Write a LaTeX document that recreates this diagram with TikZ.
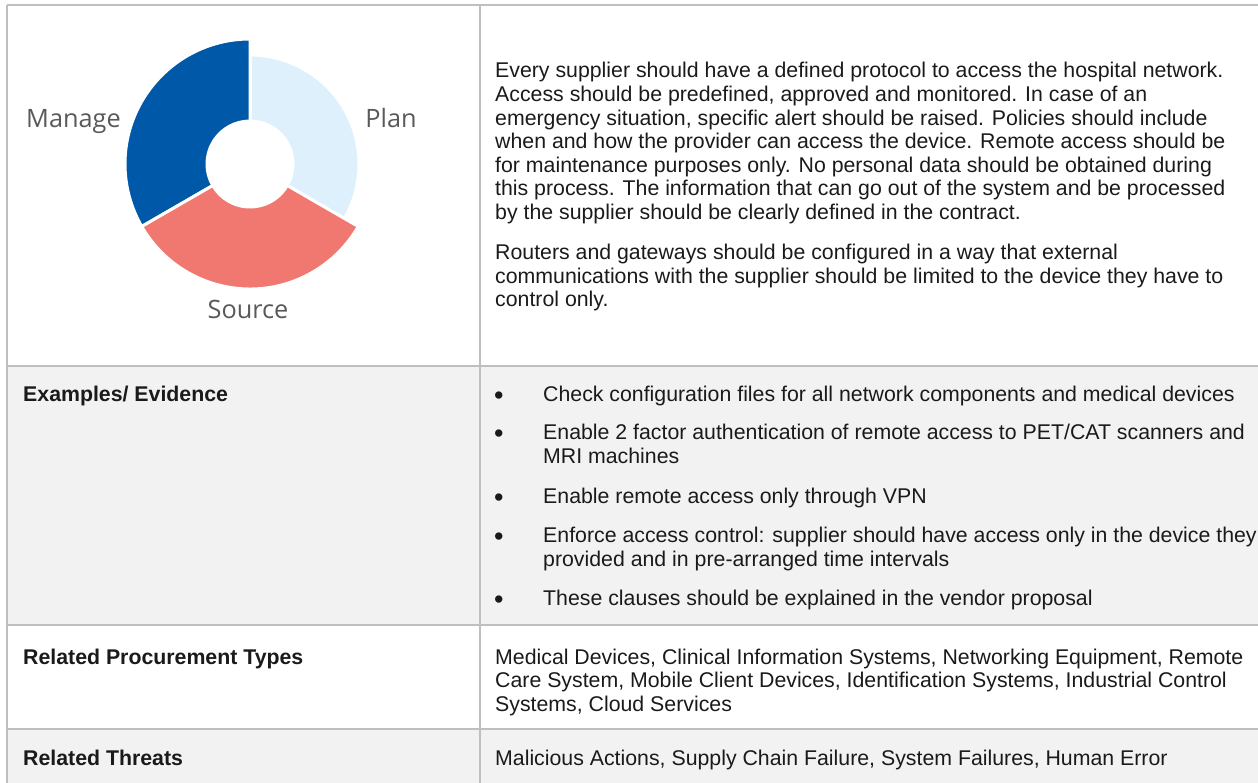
\documentclass[tikz,border=0pt]{standalone}
\usepackage{fontspec}
\setmainfont{Liberation Sans}
\newfontfamily\chartfont{Open Sans}
\usetikzlibrary{backgrounds}
\definecolor{gridgray}{HTML}{BFBFBF}
\definecolor{rowgray}{HTML}{F2F2F2}
\definecolor{managecol}{HTML}{0059A8}
\definecolor{plancol}{HTML}{DDF0FB}
\definecolor{sourcecol}{HTML}{F17870}
\definecolor{labelgray}{HTML}{595959}
\definecolor{inkcol}{HTML}{1A1A1A}

\begin{document}
\begin{tikzpicture}[x=1pt,y=1pt,
body/.style={font=\fontsize{21.3}{23.6}\selectfont, text=inkcol, anchor=base west, inner sep=0pt, align=left},
head/.style={body, font=\fontsize{21.3}{23.6}\selectfont\bfseries},
dotmark/.style={body, font=\fontsize{27}{27}\selectfont},
seg/.style={draw=white, line width=3pt},
chartlabel/.style={font=\chartfont\fontsize{25.3}{30}\selectfont, text=labelgray, inner sep=0pt, anchor=base},
rule/.style={draw=gridgray, line width=2pt}]
\useasboundingbox (0,0) rectangle (1258,-783);

% table frame
\coordinate (tl) at (7,-5);
\coordinate (tr) at (1258,-5);
\coordinate (mid) at (480,-5);
\begin{scope}[on background layer]
\fill[rowgray] (7,-366) rectangle (1258,-625);
\fill[rowgray] (7,-729) rectangle (1258,-783);
\end{scope}
\draw[rule] (tl) -- (tr);
\draw[rule] (tl) -- (7,-783);
\draw[rule] (mid) -- (480,-783);
\foreach \y in {366,625,729}
  \draw[rule] (7,-\y) -- (1258,-\y);

% donut
\coordinate (c) at (250,-164);
\fill[plancol, seg] (c) ++(-30:43) -- ++(-30:66) arc[start angle=-30, end angle=90, radius=109]
  -- ++(270:66) arc[start angle=90, end angle=-30, radius=43] -- cycle;
\fill[managecol, seg] (c) ++(90:43) -- ++(90:82) arc[start angle=90, end angle=210, radius=125]
  -- ++(30:82) arc[start angle=210, end angle=90, radius=43] -- cycle;
\fill[sourcecol, seg] (c) ++(210:43) -- ++(210:82) arc[start angle=210, end angle=330, radius=125]
  -- ++(150:82) arc[start angle=330, end angle=210, radius=43] -- cycle;
\node[chartlabel] (manage) at (73.5,-128) {Manage};
\node[chartlabel] (plan) at (391,-128) {Plan};
\node[chartlabel] (source) at (248,-319) {Source};

% description (anchored on its last line)
\node[body] (desc) at (495,-306.8) {Every supplier should have a defined protocol to access the hospital network.\\
Access should be predefined, approved and monitored. In case of an\\
emergency situation, specific alert should be raised. Policies should include\\
when and how the provider can access the device. Remote access should be\\
for maintenance purposes only. No personal data should be obtained during\\
this process. The information that can go out of the system and be processed\\
by the supplier should be clearly defined in the contract.\\[16.4pt]
Routers and gateways should be configured in a way that external\\
communications with the supplier should be limited to the device they have to\\
control only.};

% examples
\node[head] (examples) at (23,-401.5) {Examples/ Evidence};
\foreach \ypos/\ylast/\txt [count=\n] in {
  401.5/401.5/{Check configuration files for all network components and medical devices},
  439.5/463.1/{Enable 2 factor authentication of remote access to PET/CAT scanners and\\MRI machines},
  503.5/503.5/{Enable remote access only through VPN},
  542.5/566.1/{Enforce access control: supplier should have access only in the device they\\provided and in pre-arranged time intervals},
  605.5/605.5/{These clauses should be explained in the vendor proposal}}
{
  \node[dotmark] (dot-\n) at (494,-\ypos-3) {\textbullet};
  \node[body] (item-\n) at (543,-\ylast) {\txt};
}

% procurement types
\node[head] (proc) at (23,-664) {Related Procurement Types};
\node[body] (proclist) at (495,-711.2) {Medical Devices, Clinical Information Systems, Networking Equipment, Remote\\
Care System, Mobile Client Devices, Identification Systems, Industrial Control\\
Systems, Cloud Services};

% threats
\node[head] (threats) at (23,-765) {Related Threats};
\node[body] (threatlist) at (495,-765) {Malicious Actions, Supply Chain Failure, System Failures, Human Error};
\end{tikzpicture}
\end{document}
